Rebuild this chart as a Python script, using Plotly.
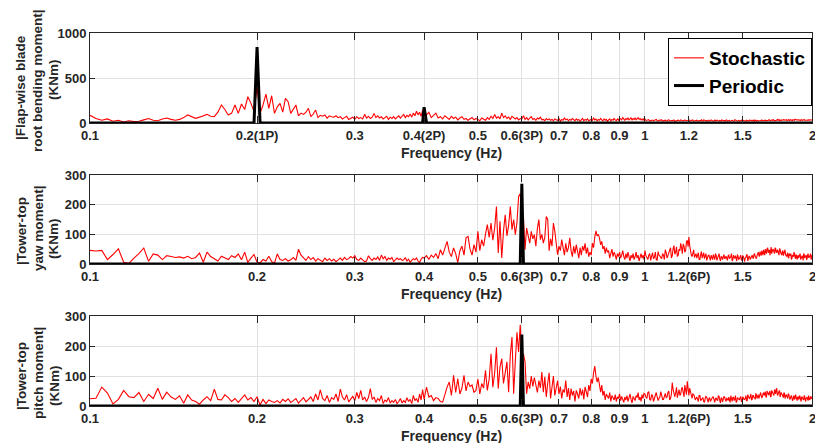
import numpy as np
import plotly.graph_objects as go

# Frequency bins (Hz): finer spacing at low frequency, coarser at high frequency
freq_low = 0.1 + 0.0025 * np.arange(120)
freq_mid = 0.4 + 0.004 * np.arange(150)
freq_high = 1.0 + 0.004 * np.arange(251)

# Flap-wise blade root bending moment, stochastic spectrum (KNm)
flap_low = [
    85, 50, 30, 45, 20, 30, 12, 25, 15, 20,
    35, 50, 30, 25, 45, 55, 40, 30, 40, 60,
    89, 70, 52, 65, 80, 96, 75, 70, 120, 200,
    150, 89, 110, 200, 107, 211, 150, 292, 218, 126,
    400, 107, 200, 322, 163, 303, 107, 180, 218, 120,
    274, 237, 107, 150, 200, 80, 110, 95, 120, 163,
    70, 100, 144, 60, 85, 75, 89, 55, 80, 70,
    65, 80, 59, 70, 45, 60, 75, 40, 55, 65,
    40, 70, 50, 60, 45, 96, 55, 75, 50, 65,
    107, 60, 80, 55, 70, 45, 60, 75, 40, 65,
    50, 70, 45, 60, 80, 55, 70, 95, 60, 85,
    70, 100, 65, 110, 80, 130, 90, 120, 75, 140,
]
flap_mid = [
    150, 90, 120, 60, 85, 110, 55, 70, 45, 80,
    60, 40, 75, 50, 65, 35, 55, 70, 40, 50,
    30, 45, 60, 35, 50, 40, 25, 55, 45, 30,
    60, 40, 75, 50, 95, 55, 70, 45, 110, 60,
    80, 50, 65, 40, 75, 55, 45, 60, 35, 50,
    45, 80, 40, 60, 35, 55, 70, 40, 50, 30,
    55, 45, 65, 35, 40, 25, 50, 35, 45, 30,
    40, 25, 45, 35, 30, 50, 20, 40, 30, 55,
    35, 45, 25, 40, 30, 50, 35, 25, 45, 30,
    40, 20, 35, 50, 25, 40, 30, 45, 25, 35,
    40, 30, 55, 35, 45, 25, 40, 30, 50, 35,
    25, 45, 30, 40, 20, 35, 45, 25, 40, 30,
    50, 35, 25, 45, 30, 55, 40, 35, 60, 45,
    30, 50, 40, 55, 35, 45, 60, 30, 50, 40,
    55, 35, 45, 60, 40, 50, 35, 45, 30, 50,
]
# 1.000, 1.008, ... 2.000 Hz
flap_high_even = [
    45, 30, 38, 25, 33, 28, 40, 22, 30, 35,
    26, 32, 20, 36, 28, 24, 34, 22, 30, 27,
    35, 21, 29, 25, 33, 38, 24, 30, 20, 28,
    32, 23, 27, 35, 22, 30, 26, 19, 31, 24,
    28, 21, 33, 25, 29, 20, 27, 34, 23, 26,
    30, 22, 28, 18, 32, 25, 21, 29, 24, 31,
    20, 27, 23, 30, 26, 19, 28, 24, 33, 22,
    29, 25, 21, 31, 27, 23, 30, 26, 35, 24,
    28, 32, 25, 30, 36, 27, 33, 29, 38, 26,
    31, 35, 28, 40, 30, 34, 27, 37, 32, 29,
    36, 31, 39, 28, 34, 30, 37, 33, 41, 29,
    35, 32, 38, 30, 36, 27, 33, 39, 31, 35,
    30, 37, 29, 34, 32, 36,
]
# 1.004, 1.012, ... 1.996 Hz
flap_high_odd = [
    28, 35, 22, 31, 26, 37, 24, 29, 33, 21,
    30, 25, 34, 23, 28, 31, 19, 27, 32, 24,
    29, 22, 35, 26, 30, 20, 27, 33, 25, 29,
    21, 31, 24, 28, 34, 22, 26, 30, 23, 35,
    27, 20, 29, 32, 24, 28, 22, 31, 26, 19,
    33, 25, 28, 21, 30, 24, 35, 27, 22, 29,
    25, 32, 20, 28, 23, 31, 26, 21, 30, 27,
    24, 33, 28, 22, 29, 25, 32, 27, 23, 30,
    35, 26, 31, 28, 33, 24, 30, 36, 27, 32,
    29, 38, 31, 26, 35, 30, 33, 28, 36, 31,
    27, 34, 30, 37, 32, 28, 35, 31, 38, 33,
    29, 36, 32, 28, 34, 30, 37, 31, 27, 35,
    32, 29, 36, 31, 33,
]

# Tower-top yaw moment, stochastic spectrum (KNm)
yaw_low = [
    46, 44, 46, 15, 32, 51, 6, 2, 20, 35,
    54, 9, 34, 30, 15, 28, 25, 22, 24, 20,
    26, 18, 22, 37, 6, 40, 25, 18, 10, 26,
    20, 15, 28, 22, 34, 14, 40, 5, 20, 32,
    6, 4, 15, 10, 26, 8, 3, 34, 15, 12,
    18, 10, 14, 22, 12, 50, 30, 20, 12, 25,
    15, 22, 10, 18, 14, 8, 20, 12, 18, 10,
    16, 8, 14, 20, 12, 22, 15, 18, 25, 20,
    28, 15, 12, 20, 14, 8, 10, 28, 18, 12,
    20, 15, 24, 12, 30, 18, 25, 12, 20, 16,
    22, 8, 14, 20, 15, 18, 12, 14, 22, 10,
    16, 6, 12, 18, 14, 20, 10, 5, 16, 22,
]
yaw_mid = [
    20, 28, 15, 30, 22, 35, 18, 48, 30, 55,
    76, 40, 25, 54, 35, 5, 45, 60, 30, 88,
    93, 50, 30, 65, 40, 110, 45, 82, 60, 100,
    133, 90, 138, 80, 120, 194, 37, 144, 20, 110,
    166, 95, 130, 194, 116, 150, 99, 140, 228, 237,
    150, 160, 48, 121, 93, 70, 110, 85, 99, 60,
    120, 150, 82, 100, 70, 90, 160, 150, 45, 85,
    60, 138, 110, 75, 31, 60, 45, 82, 50, 30,
    70, 40, 55, 88, 45, 25, 60, 35, 65, 40,
    20, 55, 30, 60, 45, 70, 35, 55, 25, 40,
    30, 70, 55, 90, 112, 95, 100, 88, 65, 76,
    50, 60, 35, 55, 40, 45, 20, 35, 50, 25,
    40, 30, 15, 35, 25, 40, 20, 30, 45, 25,
    15, 35, 20, 40, 25, 10, 30, 20, 35, 15,
    25, 40, 20, 30, 10, 25, 35, 20, 30, 15,
]
yaw_high_even = [
    45, 20, 30, 12, 38, 22, 15, 42, 25, 18,
    30, 48, 20, 35, 55, 28, 62, 40, 25, 50,
    70, 35, 60, 45, 80, 91, 40, 25, 48, 30,
    20, 38, 15, 42, 28, 18, 35, 22, 30, 12,
    25, 32, 15, 28, 20, 35, 10, 24, 30, 18,
    26, 12, 30, 20, 35, 15, 22, 28, 10, 25,
    18, 30, 14, 26, 8, 22, 32, 16, 25, 20,
    30, 18, 35, 22, 28, 40, 25, 32, 45, 30,
    38, 50, 35, 55, 42, 30, 57, 40, 48, 35,
    52, 38, 45, 30, 50, 35, 42, 28, 40, 32,
    25, 38, 20, 30, 35, 18, 28, 40, 22, 32,
    15, 30, 25, 35, 20, 28, 12, 32, 24, 30,
    18, 35, 22, 28, 15, 30,
]
yaw_high_odd = [
    28, 15, 35, 25, 18, 40, 12, 30, 22, 35,
    15, 38, 28, 45, 20, 52, 33, 58, 30, 45,
    55, 68, 40, 75, 58, 62, 30, 42, 22, 35,
    28, 15, 32, 20, 38, 25, 12, 28, 18, 30,
    15, 22, 35, 12, 30, 18, 25, 15, 32, 20,
    12, 28, 18, 25, 10, 30, 20, 14, 32, 16,
    24, 12, 28, 18, 20, 30, 10, 26, 15, 28,
    22, 32, 25, 18, 38, 30, 42, 28, 35, 48,
    30, 45, 52, 38, 48, 55, 35, 50, 42, 55,
    40, 48, 35, 52, 38, 30, 45, 35, 48, 28,
    32, 22, 35, 28, 15, 30, 25, 35, 18, 28,
    25, 20, 32, 15, 28, 22, 35, 20, 27, 14,
    30, 22, 26, 35, 20,
]

# Tower-top pitch moment, stochastic spectrum (KNm)
pitch_low = [
    24, 26, 63, 43, 7, 22, 52, 31, 28, 45,
    15, 39, 25, 59, 22, 46, 30, 22, 34, 9,
    37, 20, 15, 6, 20, 31, 18, 56, 22, 20,
    37, 28, 15, 25, 12, 24, 37, 20, 28, 15,
    31, 3, 22, 8, 20, 15, 12, 18, 10, 22,
    15, 24, 12, 18, 25, 10, 20, 28, 14, 22,
    30, 15, 40, 20, 54, 25, 18, 35, 12, 28,
    22, 40, 15, 56, 30, 20, 38, 14, 25, 32,
    18, 45, 25, 52, 20, 30, 15, 28, 58, 22,
    30, 12, 25, 18, 35, 8, 20, 15, 28, 10,
    18, 12, 22, 8, 15, 25, 10, 18, 12, 28,
    15, 22, 8, 35, 18, 25, 12, 40, 20, 55,
]
pitch_mid = [
    22, 63, 30, 35, 18, 28, 25, 15, 13, 40,
    63, 80, 35, 102, 45, 91, 40, 60, 102, 50,
    80, 65, 70, 45, 52, 90, 40, 75, 60, 119,
    52, 90, 174, 63, 110, 196, 58, 130, 158, 75,
    120, 147, 46, 170, 230, 41, 150, 246, 180, 271,
    160, 174, 147, 41, 80, 58, 100, 65, 95, 70,
    45, 85, 60, 113, 46, 97, 30, 75, 111, 25,
    55, 100, 35, 58, 85, 40, 65, 25, 55, 45,
    85, 30, 60, 20, 58, 35, 50, 15, 52, 40,
    25, 60, 35, 55, 22, 64, 40, 30, 70, 50,
    90, 75, 110, 133, 100, 80, 95, 60, 46, 70,
    35, 50, 20, 40, 30, 25, 45, 15, 35, 28,
    20, 38, 15, 30, 25, 40, 18, 32, 22, 12,
    30, 20, 35, 15, 28, 40, 22, 10, 32, 25,
    18, 35, 28, 45, 20, 30, 15, 38, 25, 42,
]
pitch_high_even = [
    40, 25, 48, 20, 35, 28, 45, 18, 30, 38,
    22, 42, 30, 50, 25, 78, 35, 45, 28, 55,
    40, 62, 30, 50, 82, 35, 45, 25, 38, 20,
    30, 15, 35, 22, 28, 12, 32, 20, 25, 15,
    22, 30, 12, 26, 18, 32, 10, 25, 20, 28,
    15, 24, 30, 12, 22, 28, 18, 35, 14, 25,
    20, 32, 16, 28, 22, 35, 18, 30, 25, 40,
    22, 35, 28, 42, 25, 38, 30, 45, 28, 40,
    35, 48, 30, 42, 36, 50, 32, 45, 38, 55,
    40, 59, 35, 48, 30, 45, 38, 28, 42, 30,
    35, 25, 40, 22, 32, 28, 20, 35, 25, 30,
    18, 32, 24, 28, 15, 30, 22, 35, 20, 26,
    30, 18, 28, 22, 32, 25,
]
pitch_high_odd = [
    30, 45, 22, 38, 15, 42, 30, 25, 48, 22,
    35, 28, 45, 20, 40, 55, 30, 62, 42, 35,
    58, 45, 70, 38, 55, 60, 28, 40, 32, 25,
    22, 35, 18, 28, 15, 25, 30, 12, 28, 22,
    30, 15, 25, 20, 35, 18, 28, 14, 32, 22,
    26, 18, 20, 35, 15, 30, 22, 12, 28, 20,
    28, 15, 30, 22, 25, 18, 38, 26, 32, 20,
    35, 28, 22, 38, 32, 25, 40, 35, 30, 45,
    42, 30, 50, 38, 45, 30, 52, 40, 35, 48,
    55, 38, 45, 52, 35, 40, 32, 45, 25, 38,
    28, 40, 30, 25, 35, 18, 30, 22, 38, 20,
    28, 22, 35, 18, 30, 25, 20, 32, 15, 28,
    22, 35, 20, 30, 25,
]

# Periodic (deterministic) harmonic amplitudes (KNm) at rotor-speed multiples
flap_periodic = {0.2: 845, 0.4: 175}
yaw_periodic = {0.6: 270}
pitch_periodic = {0.6: 238}

# Axis ticks
x_tickvals = [0.1, 0.2, 0.3, 0.4, 0.5, 0.6, 0.7, 0.8, 0.9, 1.0, 1.2, 1.5, 2.0]
flap_ticktext = ["0.1", "0.2(1P)", "0.3", "0.4(2P)", "0.5", "0.6(3P)", "0.7",
                 "0.8", "0.9", "1", "1.2", "1.5", "2"]
tower_ticktext = ["0.1", "0.2", "0.3", "0.4", "0.5", "0.6(3P)", "0.7",
                  "0.8", "0.9", "1", "1.2(6P)", "1.5", "2"]

freq = np.concatenate([freq_low, freq_mid, freq_high])


def merge_bins(even, odd):
    out = []
    for a, b in zip(even, odd):
        out += [a, b]
    out.append(even[-1])
    return out


def periodic_line(peaks):
    amp = np.zeros_like(freq)
    for f0, a in peaks.items():
        amp[np.argmin(np.abs(freq - f0))] = a
    return amp


FONT = "Liberation Sans"
AX = "#262626"
W, H = 815, 443
L, R = 90, 812

panels = [
    dict(stoch=flap_low + flap_mid + merge_bins(flap_high_even, flap_high_odd),
         per=flap_periodic,
         yrange=[0, 1000], ytick=[0, 500, 1000], ticktext=flap_ticktext,
         top=33, bottom=123,
         ytitle=["|Flap-wise blade", "root bending moment|", "(KNm)"],
         ytitle_y=[88, 80, 80]),
    dict(stoch=yaw_low + yaw_mid + merge_bins(yaw_high_even, yaw_high_odd),
         per=yaw_periodic,
         yrange=[0, 300], ytick=[0, 100, 200, 300], ticktext=tower_ticktext,
         top=175, bottom=264,
         ytitle=["|Tower-top", "yaw moment|", "(KNm)"],
         ytitle_y=[231, 228, 239]),
    dict(stoch=pitch_low + pitch_mid + merge_bins(pitch_high_even, pitch_high_odd),
         per=pitch_periodic,
         yrange=[0, 300], ytick=[0, 100, 200, 300], ticktext=tower_ticktext,
         top=316, bottom=406,
         ytitle=["|Tower-top", "pitch moment|", "(KNm)"],
         ytitle_y=[376, 373, 386]),
]
ytitle_x = [21, 38, 54]


def px_x(px):
    return (px - L) / (R - L)


def px_y(py):
    return 1 - py / H


fig = go.Figure()
annotations = []

for i, p in enumerate(panels):
    suffix = "" if i == 0 else str(i + 1)
    fig.add_trace(go.Scatter(
        x=freq, y=p["stoch"], mode="lines", name="Stochastic",
        line=dict(color="#ff0000", width=1.1), legendgroup="s",
        showlegend=(i == 0), xaxis="x" + suffix, yaxis="y" + suffix))
    fig.add_trace(go.Scatter(
        x=freq, y=periodic_line(p["per"]), mode="lines", name="Periodic",
        line=dict(color="#000000", width=3), legendgroup="p",
        showlegend=(i == 0), xaxis="x" + suffix, yaxis="y" + suffix))

    fig.layout["xaxis" + suffix] = dict(
        type="log", range=[-1, np.log10(2.0)], domain=[0, 1],
        anchor="y" + suffix, tickvals=x_tickvals, ticktext=p["ticktext"],
        ticks="inside", ticklen=7, tickcolor=AX, tickwidth=1,
        showline=True, linecolor=AX, linewidth=1, mirror="allticks",
        showgrid=True, gridcolor="#e1e1e1", gridwidth=1, zeroline=False,
        tickfont=dict(family=FONT, size=13, color=AX, weight="bold"),
        automargin=False)
    fig.layout["yaxis" + suffix] = dict(
        range=p["yrange"], tickvals=p["ytick"],
        domain=[px_y(p["bottom"]), px_y(p["top"])],
        anchor="x" + suffix,
        ticks="inside", ticklen=5, tickcolor=AX, tickwidth=1,
        showline=True, linecolor=AX, linewidth=1, mirror="allticks",
        showgrid=True, gridcolor="#e1e1e1", gridwidth=1, zeroline=False,
        tickfont=dict(family=FONT, size=13, color=AX, weight="bold"),
        automargin=False)

    # Last x tick label sits on the right edge of the plot area
    annotations.append(dict(
        text=p["ticktext"][-1], xref="paper", yref="paper",
        x=1, y=px_y(p["bottom"] + 12), xanchor="center", yanchor="middle",
        showarrow=False,
        font=dict(family=FONT, size=13, color=AX, weight="bold")))
    annotations.append(dict(
        text="Frequency (Hz)", xref="paper", yref="paper",
        x=px_x((L + R) / 2), y=px_y(p["bottom"] + 30),
        xanchor="center", yanchor="middle", showarrow=False,
        font=dict(family=FONT, size=14, color=AX, weight="bold")))
    for line_text, lx, ly in zip(p["ytitle"], ytitle_x, p["ytitle_y"]):
        annotations.append(dict(
            text=line_text, xref="paper", yref="paper",
            x=px_x(lx), y=px_y(ly),
            xanchor="center", yanchor="middle", textangle=-90,
            showarrow=False,
            font=dict(family=FONT, size=13.5, color=AX, weight="bold")))

fig.update_layout(
    width=W, height=H,
    margin=dict(l=L, r=W - R, t=0, b=0),
    plot_bgcolor="white", paper_bgcolor="white",
    annotations=annotations,
    legend=dict(
        x=1, xanchor="right", y=px_y(38), yanchor="top",
        bgcolor="white", bordercolor="#000000", borderwidth=1,
        font=dict(family=FONT, size=19, color="#000000", weight="bold"),
        itemwidth=30, tracegroupgap=0),
    showlegend=True,
)

fig.write_html("out.html")
